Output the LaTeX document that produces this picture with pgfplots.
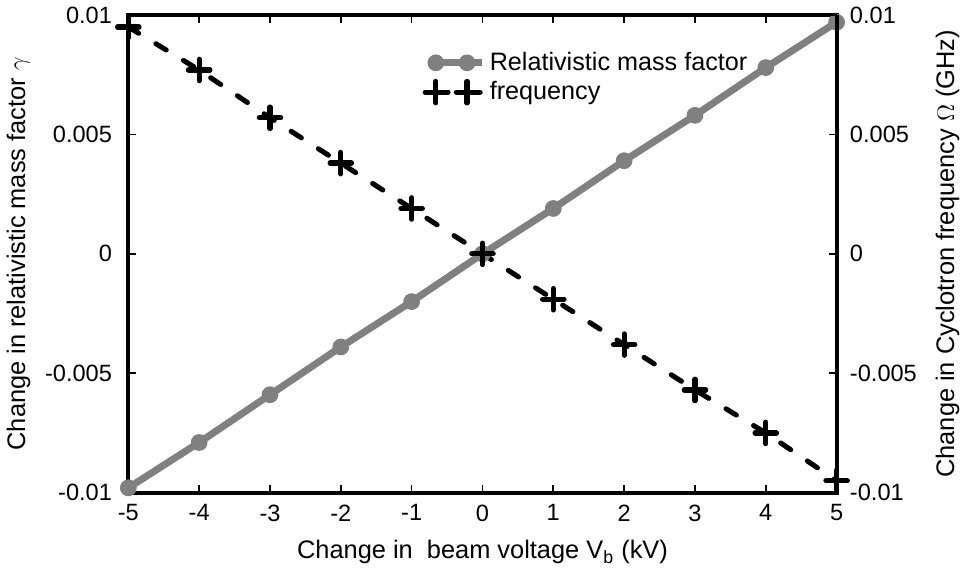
\documentclass[border=0pt]{standalone}
\usepackage{pgfplots}
\pgfplotsset{compat=1.18}
\usepackage{fontspec}
\setmainfont{Liberation Sans}
\definecolor{lgray}{RGB}{128,128,128}
\begin{document}
\begin{tikzpicture}
\begin{axis}[
  scale only axis, width=351.5pt, height=237pt,
  xmin=-5, xmax=5, ymin=-0.01, ymax=0.01,
  scaled ticks=false,
  xtick={-5,-4,-3,-2,-1,0,1,2,3,4,5},
  xticklabels={-5,-4,-3,-2,-1,0,1,2,3,4,5},
  ytick={-0.01,-0.005,0,0.005,0.01},
  yticklabels={-0.01,-0.005,0,0.005,0.01},
  tick align=inside, tick pos=both, xticklabel pos=lower, yticklabel pos=left,
  major tick length=4pt,
  axis line style={line width=2pt},
  every tick/.style={black, line width=0.8pt},
  tick label style={font=\fontsize{11.7}{13}\selectfont},
  yticklabel style={xshift=-4.6pt},
  xticklabel style={yshift=-2.4pt},
  xlabel={Change in\ \ beam voltage V\textsubscript{b} (kV)},
  ylabel={Change in relativistic mass factor $\gamma$},
  label style={font=\fontsize{12.6}{14}\selectfont},
  xlabel style={at={(axis description cs:0.5,-0.1245)}, anchor=center},
  ylabel style={at={(axis description cs:-0.155,0.5)}, anchor=center},
  clip=false,
  legend style={draw=none, fill=none, at={(0.41,0.94)}, anchor=north west,
    font=\fontsize{12.5}{14}\selectfont, row sep=0pt, cells={anchor=west}},
  legend image code/.code={
    \path (0pt,0pt) -- (23pt,0pt);
    \draw[#1, mark repeat=1, mark phase=1] plot coordinates {(0pt,0pt) (15.5pt,0pt)};
  },
]
\addplot[color=lgray, line width=3.5pt, mark=*, mark size=3.9pt,
  mark options={solid, fill=lgray, draw=lgray, line width=0.5pt}]
  coordinates {(-5,-0.0098) (-4,-0.0079) (-3,-0.0059) (-2,-0.0039) (-1,-0.0020)
    (0,0) (1,0.0019) (2,0.0039) (3,0.0058) (4,0.0078) (5,0.0097)};
\addlegendentry{Relativistic mass factor}
\addplot[color=black, line width=2.5pt, line cap=round, dash pattern=on 6pt off 10pt,
  mark=+, mark size=5.3pt, mark options={solid, line width=2.6pt, line cap=round}]
  coordinates {(-5,0.0095) (-4,0.0077) (-3,0.0057) (-2,0.0038) (-1,0.0019)
    (0,0) (1,-0.0019) (2,-0.0038) (3,-0.0057) (4,-0.0075) (5,-0.0095)};
\addlegendentry{frequency}
\end{axis}
\begin{axis}[
  scale only axis, width=351.5pt, height=237pt,
  xmin=-5, xmax=5, ymin=-0.01, ymax=0.01,
  scaled ticks=false,
  hide x axis, axis y line*=right,
  ytick={-0.01,-0.005,0,0.005,0.01},
  yticklabels={-0.01,-0.005,0,0.005,0.01},
  tick align=inside, major tick length=4pt,
  axis line style={line width=2pt},
  every tick/.style={black, line width=0.8pt},
  tick label style={font=\fontsize{11.7}{13}\selectfont},
  yticklabel style={xshift=3.1pt},
  ylabel={Change in Cyclotron frequency $\Omega$ (GHz)},
  label style={font=\fontsize{12.6}{14}\selectfont},
  ylabel style={at={(axis description cs:1.1565,0.5)}, anchor=center},
]
\end{axis}
\end{tikzpicture}
\end{document}
